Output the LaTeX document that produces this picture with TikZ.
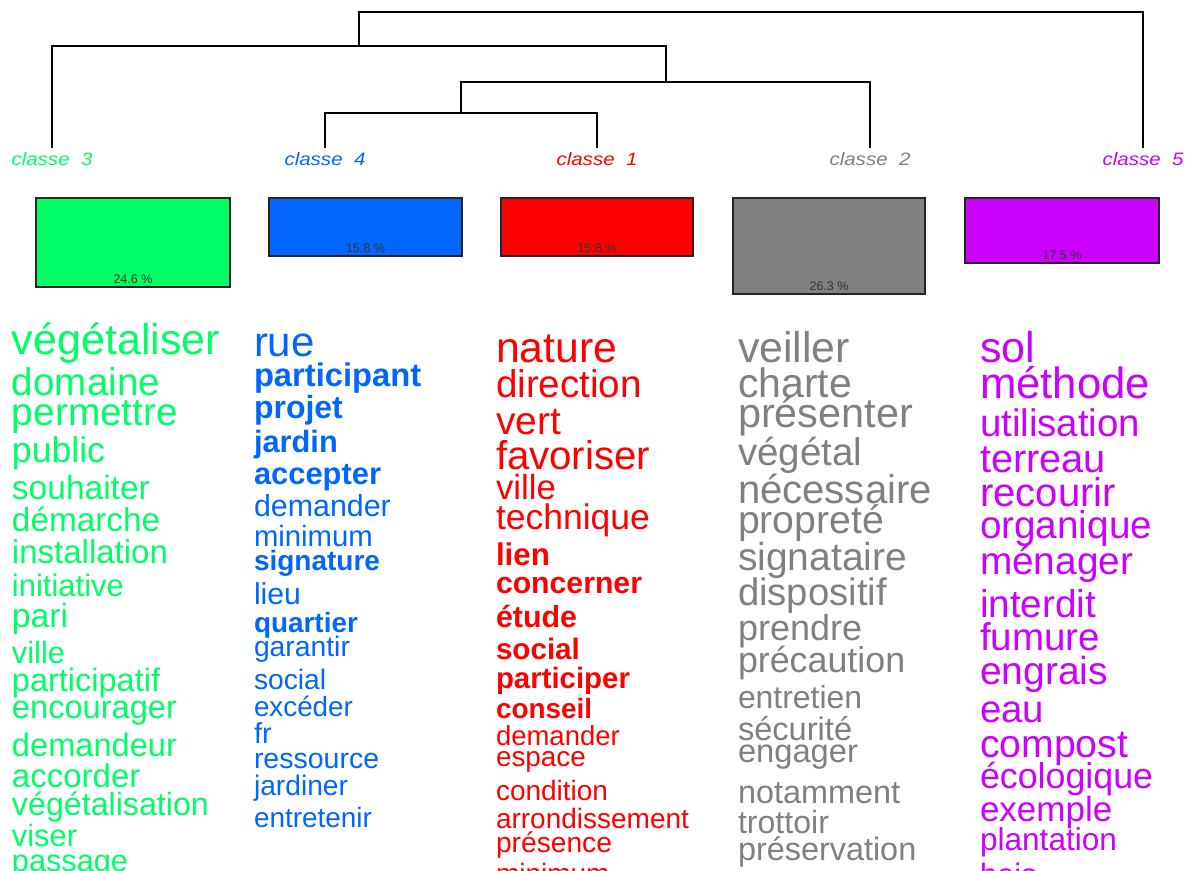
\documentclass[tikz,border=0pt]{standalone}
\usepackage{fontspec}
\setmainfont{Liberation Sans}
\usepackage{graphicx}
\definecolor{cgreen}{HTML}{00FF66}
\definecolor{cblue}{HTML}{0066FF}
\definecolor{cred}{HTML}{FF0000}
\definecolor{cgray}{HTML}{808080}
\definecolor{cpurple}{HTML}{CC00FF}
\newcommand{\cw}[6]{\node[word,text=#1] (#2) at (#3,#4) {\fontsize{#5}{#5}\selectfont #6};}
\tikzset{
  word/.style={anchor=base west,inner sep=0pt,outer sep=0pt},
  dendro/.style={line width=1.4pt,black},
  classlab/.style={anchor=base,inner sep=0pt,font=\fontsize{18}{18}\selectfont\itshape},
  classbox/.style={draw=black!85,line width=1.4pt},
  pct/.style={anchor=base,inner sep=0pt,text=black!80,font=\fontsize{12.5}{12.5}\selectfont}
}
\begin{document}
\begin{tikzpicture}[x=1pt,y=-1pt]
\useasboundingbox (0,0) rectangle (1191,870);
\clip (0,0) rectangle (1191,870);
\fill[white] (0,0) rectangle (1191,870);
% class labels
\node[classlab,text=cgreen] (lab3) at (52,165) {\scalebox{1.14}[1]{classe\ \ 3}};
\node[classlab,text=cblue] (lab4) at (325,165) {\scalebox{1.14}[1]{classe\ \ 4}};
\node[classlab,text=cred] (lab1) at (597,165) {\scalebox{1.14}[1]{classe\ \ 1}};
\node[classlab,text=cgray] (lab2) at (870,165) {\scalebox{1.14}[1]{classe\ \ 2}};
\node[classlab,text=cpurple] (lab5) at (1143,165) {\scalebox{1.14}[1]{classe\ \ 5}};
% dendrogram
\coordinate (t3) at (52,148);
\coordinate (t4) at (325,148);
\coordinate (t1) at (597,148);
\coordinate (t2) at (870,148);
\coordinate (t5) at (1143,148);
\coordinate (j41) at (461,113);
\coordinate (j412) at (666,82);
\coordinate (j3412) at (359,46);
\coordinate (jroot) at (751,12);
\draw[dendro] (t4) |- (j41) -| (t1);
\draw[dendro] (j41) |- (j412) -| (t2);
\draw[dendro] (t3) |- (j3412) -| (j412);
\draw[dendro] (j3412) |- (jroot) -| (t5);
% boxes
\draw[classbox,fill=cgreen] (36,198) rectangle (230,287);
\node[pct] (p3) at (133,283) {24.6 \%};
\draw[classbox,fill=cblue] (269,198) rectangle (462,256);
\node[pct] (p4) at (365.5,252) {15.8 \%};
\draw[classbox,fill=cred] (501,198) rectangle (693,256);
\node[pct] (p1) at (597,252) {15.8 \%};
\draw[classbox,fill=cgray] (733,198) rectangle (925,294);
\node[pct] (p2) at (829,290) {26.3 \%};
\draw[classbox,fill=cpurple] (965,198) rectangle (1159,263);
\node[pct] (p5) at (1062,259) {17.5 \%};
% green column
\cw{cgreen}{g1}{12}{354}{43}{végétaliser}
\cw{cgreen}{g2}{12}{395}{38.6}{domaine}
\cw{cgreen}{g3}{12}{425}{38.8}{permettre}
\cw{cgreen}{g4}{12}{462}{35.6}{public}
\cw{cgreen}{g5}{12}{499}{33.5}{souhaiter}
\cw{cgreen}{g6}{12}{531}{33.3}{démarche}
\cw{cgreen}{g7}{12}{563}{33}{installation}
\cw{cgreen}{g8}{12}{596}{31}{initiative}
\cw{cgreen}{g9}{12}{627}{33.6}{pari}
\cw{cgreen}{g10}{12}{663}{30.8}{ville}
\cw{cgreen}{g11}{12}{691}{32.5}{participatif}
\cw{cgreen}{g12}{12}{718}{32.6}{encourager}
\cw{cgreen}{g13}{12}{756}{32.6}{demandeur}
\cw{cgreen}{g14}{12}{787}{33}{accorder}
\cw{cgreen}{g15}{12}{815}{32.2}{végétalisation}
\cw{cgreen}{g16}{12}{846}{30.8}{viser}
\cw{cgreen}{g17}{12}{871}{30.7}{passage}
% blue column
\cw{cblue}{b1}{254}{356}{42}{rue}
\cw{cblue}{b2}{254}{386}{32.7}{\bfseries participant}
\cw{cblue}{b3}{254}{418}{32}{\bfseries projet}
\cw{cblue}{b4}{254}{452}{30.8}{\bfseries jardin}
\cw{cblue}{b5}{254}{484}{30.9}{\bfseries accepter}
\cw{cblue}{b6}{254}{516}{30.4}{demander}
\cw{cblue}{b7}{254}{546}{29.3}{minimum}
\cw{cblue}{b8}{254}{570}{28}{\bfseries signature}
\cw{cblue}{b9}{254}{604}{30.2}{lieu}
\cw{cblue}{b10}{254}{632}{27.9}{\bfseries quartier}
\cw{cblue}{b11}{254}{656}{28.3}{garantir}
\cw{cblue}{b12}{254}{689}{28.2}{social}
\cw{cblue}{b13}{254}{716}{27.8}{excéder}
\cw{cblue}{b14}{254}{743}{29}{fr}
\cw{cblue}{b15}{254}{768}{28.5}{ressource}
\cw{cblue}{b16}{254}{795}{28.2}{jardiner}
\cw{cblue}{b17}{254}{827}{27.9}{entretenir}
% red column
\cw{cred}{r1}{496}{362}{42.7}{nature}
\cw{cred}{r2}{496}{397}{38.6}{direction}
\cw{cred}{r3}{496}{434}{39}{vert}
\cw{cred}{r4}{496}{469}{40.2}{favoriser}
\cw{cred}{r5}{496}{499}{34.8}{ville}
\cw{cred}{r6}{496}{529}{35.5}{technique}
\cw{cred}{r7}{496}{565}{31.3}{\bfseries lien}
\cw{cred}{r8}{496}{593}{30.2}{\bfseries concerner}
\cw{cred}{r9}{496}{627}{30.4}{\bfseries étude}
\cw{cred}{r10}{496}{659}{29.6}{\bfseries social}
\cw{cred}{r11}{496}{688}{29.4}{\bfseries participer}
\cw{cred}{r12}{496}{718}{27.9}{\bfseries conseil}
\cw{cred}{r13}{496}{745}{27.5}{demander}
\cw{cred}{r14}{496}{766}{27.9}{espace}
\cw{cred}{r15}{496}{800}{28}{condition}
\cw{cred}{r16}{496}{828}{28}{arrondissement}
\cw{cred}{r17}{496}{852}{28.2}{présence}
\cw{cred}{r18}{496}{883}{28}{minimum}
% gray column
\cw{cgray}{k1}{738}{362}{42.9}{veiller}
\cw{cgray}{k2}{738}{397}{41}{charte}
\cw{cgray}{k3}{738}{427}{41.4}{présenter}
\cw{cgray}{k4}{738}{465}{38.5}{végétal}
\cw{cgray}{k5}{738}{503}{40.1}{nécessaire}
\cw{cgray}{k6}{738}{533}{39.2}{propreté}
\cw{cgray}{k7}{738}{570}{39}{signataire}
\cw{cgray}{k8}{738}{605}{38.3}{dispositif}
\cw{cgray}{k9}{738}{640}{36}{prendre}
\cw{cgray}{k10}{738}{672}{35.8}{précaution}
\cw{cgray}{k11}{738}{708}{31.9}{entretien}
\cw{cgray}{k12}{738}{740}{32.6}{sécurité}
\cw{cgray}{k13}{738}{762}{32.7}{engager}
\cw{cgray}{k14}{738}{803}{32.4}{notamment}
\cw{cgray}{k15}{738}{833}{32.1}{trottoir}
\cw{cgray}{k16}{738}{860}{32.4}{préservation}
% purple column
\cw{cpurple}{p1w}{980}{362}{43}{sol}
\cw{cpurple}{p2w}{980}{398}{43.7}{méthode}
\cw{cpurple}{p3w}{980}{436}{38.4}{utilisation}
\cw{cpurple}{p4w}{980}{472}{39.8}{terreau}
\cw{cpurple}{p5w}{980}{506}{40.1}{recourir}
\cw{cpurple}{p6w}{980}{538}{38.7}{organique}
\cw{cpurple}{p7w}{980}{574}{38.8}{ménager}
\cw{cpurple}{p8w}{980}{617}{38.7}{interdit}
\cw{cpurple}{p9w}{980}{650}{38.6}{fumure}
\cw{cpurple}{p10w}{980}{684}{39}{engrais}
\cw{cpurple}{p11w}{980}{722}{38.4}{eau}
\cw{cpurple}{p12w}{980}{757}{39.2}{compost}
\cw{cpurple}{p13w}{980}{788}{35.8}{écologique}
\cw{cpurple}{p14w}{980}{821}{35}{exemple}
\cw{cpurple}{p15w}{980}{850}{31.6}{plantation}
\cw{cpurple}{p16w}{980}{885}{31}{bois}
\end{tikzpicture}
\end{document}
